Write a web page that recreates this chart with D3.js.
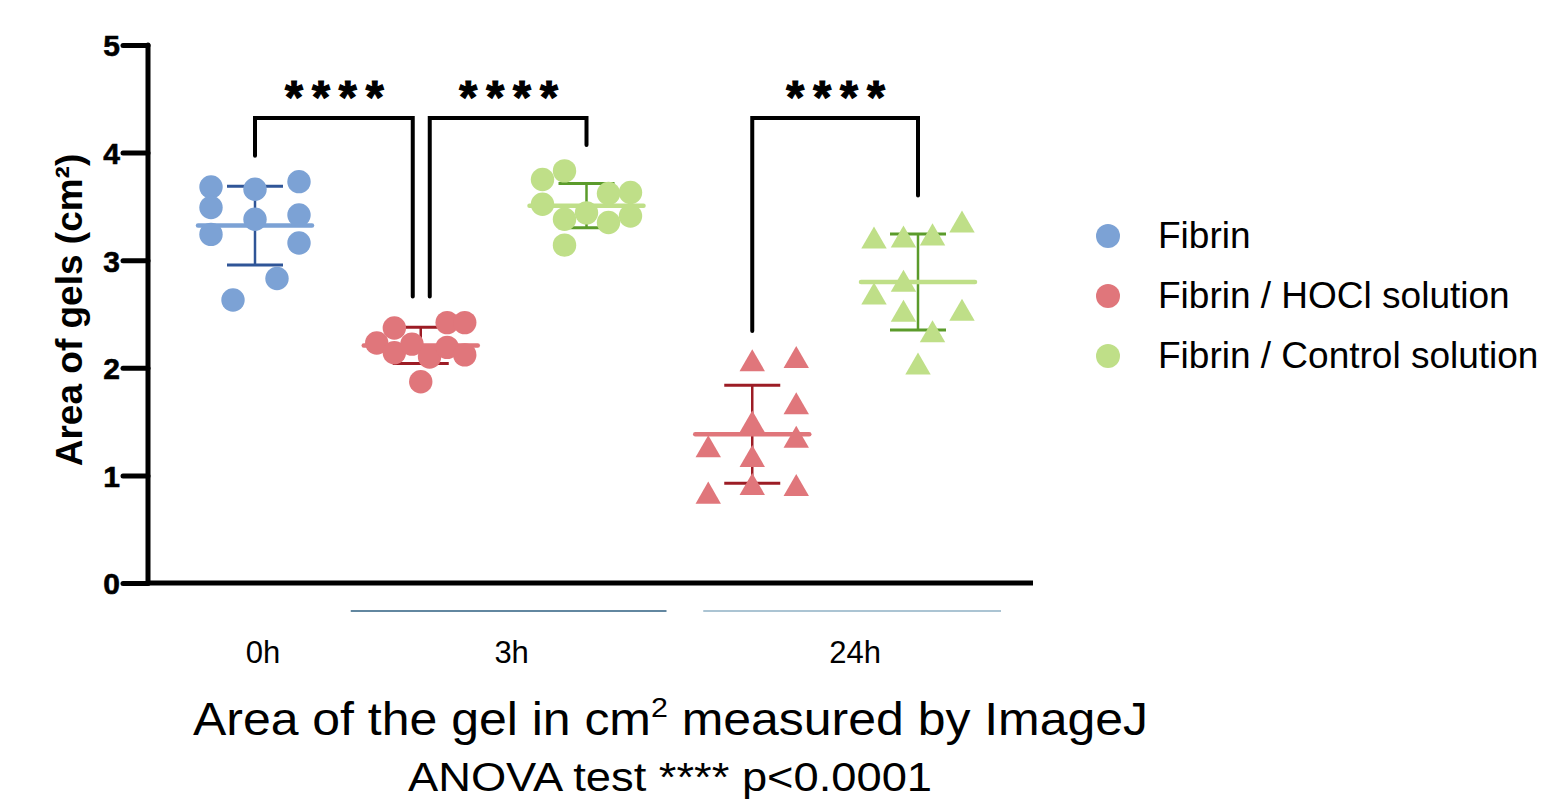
<!DOCTYPE html>
<html><head><meta charset="utf-8">
<script src="https://cdn.jsdelivr.net/npm/d3@7"></script>
<style>body{margin:0;background:#fff}</style>
</head><body>
<svg id="c" width="1546" height="801"></svg>
<script>
// ---- data ----
const groups = ["0h Fibrin", "3h HOCl", "3h Control", "24h HOCl", "24h Control"];
const groupSeries = ["Fibrin", "HOCl", "Control", "HOCl", "Control"];
const groupShape = ["circle", "circle", "circle", "triangle", "triangle"];
const timeLabels = ["0h", "3h", "24h"];
const timeGroups = [[0], [1, 2], [3, 4]];
const fibrin0h   = [3.68, 3.66, 3.73, 3.49, 3.38, 3.42, 3.24, 3.16, 2.83, 2.63];
const hocl3h     = [2.37, 2.42, 2.42, 2.23, 2.14, 2.22, 2.10, 2.19, 2.12, 1.87];
const control3h  = [3.75, 3.83, 3.52, 3.38, 3.44, 3.62, 3.63, 3.35, 3.41, 3.14];
const hocl24h    = [2.07, 2.10, 1.67, 1.50, 1.27, 1.36, 1.18, 0.92, 0.84, 0.91];
const control24h = [3.21, 3.22, 3.24, 3.36, 2.81, 2.69, 2.53, 2.54, 2.34, 2.04];
const groupValues = [fibrin0h, hocl3h, control3h, hocl24h, control24h];
// scatter column of each point (-1 .. 1)
const swarm = [
  [-1, 0, 1, -1, 0, 1, -1, 1, 0.5, -0.5],
  [-0.6, 0.6, 1, -1, -0.6, -0.2, 0.2, 0.6, 1, 0],
  [-1, -0.5, -1, -0.5, 0, 0.5, 1, 0.5, 1, -0.5],
  [0, 1, 1, 0, -1, 1, 0, 0, -1, 1],
  [-1, -0.33, 0.33, 1, -0.33, -1, -0.33, 1, 0.33, 0]
];
const yTicks = [0, 1, 2, 3, 4, 5];
const comparisons = [[0, 1, "****"], [1, 2, "****"], [3, 4, "****"]];
const legendLabels = ["Fibrin", "Fibrin / HOCl solution", "Fibrin / Control solution"];
const legendKeys = ["Fibrin", "HOCl", "Control"];

// ---- styles ----
const fill = {Fibrin: "#7ca2d5", HOCl: "#e0767b", Control: "#bfdf88"};
const barCol = {Fibrin: "#2f5597", HOCl: "#9c1c25", Control: "#5b9b2b"};

const svg = d3.select("#c");
const y = d3.scaleLinear().domain([0, 5]).range([583, 45]);
const x = d3.scalePoint().domain(groups).range([255, 918]);
const jx = d3.scaleLinear().domain([-1, 1]).range([-44, 44]);
const axisX0 = 148, axisX1 = 1033;

// y-axis
const yAxis = svg.append("g").attr("transform", `translate(${axisX0},0)`)
  .call(d3.axisLeft(y).tickValues(yTicks).tickSize(25).tickPadding(3).tickFormat(d3.format("d")));
yAxis.select(".domain").remove();
yAxis.selectAll(".tick line").attr("stroke", "#000").attr("stroke-width", 5).attr("stroke-linecap", "round");
yAxis.selectAll(".tick text").attr("font-family", "Liberation Sans, Arial, sans-serif")
  .attr("font-weight", "bold").attr("font-size", 30).attr("fill", "#000").attr("dy", "0.36em")
  .attr("stroke", "#000").attr("stroke-width", 0.6);
svg.append("line").attr("x1", axisX0).attr("x2", axisX0).attr("y1", y(5)).attr("y2", y(0))
  .attr("stroke", "#000").attr("stroke-width", 5).attr("stroke-linecap", "round");
svg.append("line").attr("x1", axisX0).attr("x2", axisX1).attr("y1", y(0)).attr("y2", y(0))
  .attr("stroke", "#000").attr("stroke-width", 5);

svg.append("text").attr("transform", `translate(82,310) rotate(-90)`)
  .attr("text-anchor", "middle").attr("font-family", "Liberation Sans, Arial, sans-serif")
  .attr("font-weight", "bold").attr("font-size", 37).text("Area of gels (cm²)");

// group lines under the axis
svg.append("line").attr("x1", x(groups[1]) - 70).attr("x2", x(groups[2]) + 80)
  .attr("y1", 611).attr("y2", 611).attr("stroke", "#2e5f80").attr("stroke-width", 1.5);
svg.append("line").attr("x1", x(groups[3]) - 49).attr("x2", x(groups[4]) + 83)
  .attr("y1", 611).attr("y2", 611).attr("stroke", "#8fb0c4").attr("stroke-width", 1.5);

// time labels
timeLabels.forEach((t, i) => {
  const cx = d3.mean(timeGroups[i], g => x(groups[g]));
  svg.append("text").attr("x", cx + (i === 2 ? 20 : 8)).attr("y", 663).attr("text-anchor", "middle")
    .attr("font-family", "Liberation Sans, Arial, sans-serif").attr("font-size", 31)
    .text(t);
});

// error bars + means
groupValues.forEach((vals, gi) => {
  const s = groupSeries[gi], cx = x(groups[gi]);
  const m = d3.mean(vals), sd = d3.deviation(vals);
  const g = svg.append("g");
  g.append("line").attr("x1", cx).attr("x2", cx).attr("y1", y(m + sd)).attr("y2", y(m - sd))
    .attr("stroke", barCol[s]).attr("stroke-width", 2.5);
  [m + sd, m - sd].forEach(v => g.append("line").attr("x1", cx - 28).attr("x2", cx + 28)
    .attr("y1", y(v)).attr("y2", y(v)).attr("stroke", barCol[s]).attr("stroke-width", 3));
  g.append("line").attr("x1", cx - 57).attr("x2", cx + 57).attr("y1", y(m)).attr("y2", y(m))
    .attr("stroke", fill[s]).attr("stroke-width", 4.5).attr("stroke-linecap", "round");
});

// points
const circ = d3.symbol().type(d3.symbolCircle).size(Math.PI * 11.7 * 11.7);
const triSize = 280;
const tri = d3.symbol().type(d3.symbolTriangle).size(triSize);
const triShift = Math.sqrt(triSize / (3 * Math.sqrt(3))) * 0.5; // centre the triangle's box on the value
groupValues.forEach((vals, gi) => {
  const s = groupSeries[gi], cx = x(groups[gi]);
  const isTri = groupShape[gi] === "triangle";
  svg.append("g").selectAll("path").data(vals).join("path")
    .attr("d", isTri ? tri : circ)
    .attr("transform", (v, i) => `translate(${cx + jx(swarm[gi][i])},${y(v) + (isTri ? triShift : 0)})`)
    .attr("fill", fill[s]);
});

// significance brackets
const topY = 118, gap = 26;
comparisons.forEach(([a, b, lab], k) => {
  const xa = x(groups[a]) + (k === 1 ? 9 : 0) , xb = x(groups[b]) - (k === 0 ? 8 : 0);
  const ya = y(d3.max(groupValues[a])) - gap, yb = y(d3.max(groupValues[b])) - gap;
  svg.append("path").attr("d", `M${xa},${ya}V${topY}H${xb}V${yb}`)
    .attr("fill", "none").attr("stroke", "#000").attr("stroke-width", 4)
    .attr("stroke-linecap", "round").attr("stroke-linejoin", "miter");
  svg.append("text").attr("x", (xa + xb) / 2 + 5).attr("y", 113).attr("text-anchor", "middle")
    .attr("font-family", "Liberation Sans, Arial, sans-serif").attr("font-weight", "bold")
    .attr("font-size", 46).attr("letter-spacing", 9).attr("stroke", "#000").attr("stroke-width", 1.2)
    .text(lab);
});

// legend
legendLabels.forEach((l, i) => {
  const ly = 236 + i * 60;
  svg.append("circle").attr("cx", 1108).attr("cy", ly).attr("r", 12).attr("fill", fill[legendKeys[i]]);
  svg.append("text").attr("x", 1158).attr("y", ly + 12).attr("font-family", "Liberation Sans, Arial, sans-serif")
    .attr("font-size", 37).text(l);
});

// bottom captions
const t1 = svg.append("text").attr("x", 193).attr("y", 735)
  .attr("font-family", "Liberation Sans, Arial, sans-serif").attr("font-size", 46)
  .attr("textLength", 955).attr("lengthAdjust", "spacingAndGlyphs");
t1.append("tspan").text("Area of the gel in cm");
t1.append("tspan").attr("font-size", 28).attr("dy", -18).text("2");
t1.append("tspan").attr("dy", 18).text(" measured by ImageJ");
svg.append("text").attr("x", 408).attr("y", 791)
  .attr("font-family", "Liberation Sans, Arial, sans-serif").attr("font-size", 40)
  .attr("textLength", 524).attr("lengthAdjust", "spacingAndGlyphs").text("ANOVA test **** p<0.0001");
</script>
</body></html>
